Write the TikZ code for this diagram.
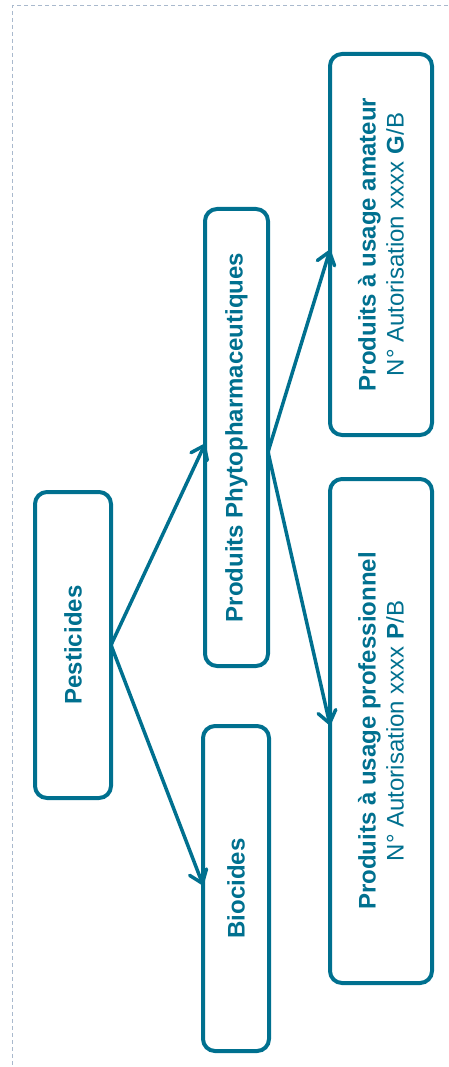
\documentclass[tikz,border=0pt]{standalone}
\usepackage{fontspec}
\setmainfont{Liberation Sans}
\usetikzlibrary{arrows.meta}
\definecolor{teal1}{HTML}{00708F}
\definecolor{frame1}{HTML}{A9B9CD}
\tikzset{
  box/.style={draw=teal1, line width=4pt, rounded corners=12pt, rotate=90,
    text=teal1, font=\fontsize{24}{28}\selectfont, align=center,
    inner sep=0pt, outer sep=0pt},
  conn/.style={draw=teal1, line width=3.5pt,
    -{Straight Barb[length=12pt,width=18pt,round]}},
  frameline/.style={draw=frame1, line width=1pt, dash pattern=on 4pt off 3pt}
}
\begin{document}
\begin{tikzpicture}[x=1pt,y=-1pt]
\useasboundingbox (0,0) rectangle (448,1067);
\draw[frameline] (448,5.5) -- (12.5,5.5) -- (12.5,1067);

\node[box, minimum width=306pt, minimum height=76pt] (pest) at (73,645) {\textbf{Pesticides}};
\node[box, minimum width=457pt, minimum height=63pt] (phyto) at (236.5,437.5) {\textbf{Produits Phytopharmaceutiques}};
\node[box, minimum width=325pt, minimum height=66pt] (bio) at (236,888.5) {\textbf{Biocides}};
\node[box, minimum width=381pt, minimum height=102pt] (amat) at (381,244.5)
  {\textbf{Produits à usage amateur}\\N° Autorisation xxxx \textbf{G}/B};
\node[box, minimum width=504pt, minimum height=102pt] (prof) at (381,731)
  {\textbf{Produits à usage professionnel}\\N° Autorisation xxxx \textbf{P}/B};

\draw[conn] (pest.south) -- ([yshift=-6.5pt]phyto.north);
\draw[conn] (pest.south) -- ([yshift=3.5pt]bio.north);
\draw[conn] ([yshift=-14.5pt]phyto.south) -- ([yshift=-5.5pt]amat.north);
\draw[conn] ([yshift=-14.5pt]phyto.south) -- ([yshift=6pt]prof.north);
\end{tikzpicture}
\end{document}
